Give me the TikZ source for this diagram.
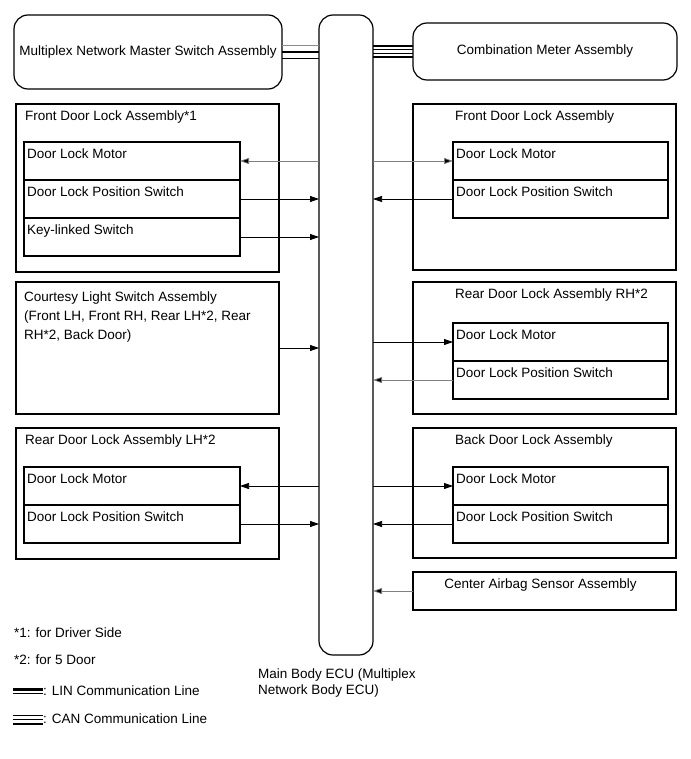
\documentclass[tikz,border=0pt]{standalone}
\usepackage{fontspec}
\setmainfont{Liberation Sans}
\usetikzlibrary{arrows.meta,positioning}

\tikzset{
  box/.style={draw,line width=1.2pt,rectangle,anchor=north west,inner sep=0pt,outer sep=0pt},
  rbox/.style={box,rounded corners=14pt},
  part/.style={box,minimum width=216,minimum height=38},
  ttl/.style={anchor=north west,inner sep=0pt,xshift=3pt,yshift=-7pt},
  arr/.style={-{Triangle[length=9pt,width=6pt]},line width=0.75pt},
  garr/.style={arr,draw=black!50,-{Triangle[length=9pt,width=6pt,fill=black]}},
  thinln/.style={line width=0.7pt},
  thickln/.style={line width=2.8pt}
}

\begin{document}
\begin{tikzpicture}[x=1pt,y=-1pt,font=\fontsize{13.5}{16}\selectfont]
  \useasboundingbox (0,0) rectangle (690,759);

  % main body ECU and the two network members
  \node[rbox,minimum width=54,minimum height=640] (ecu) at (319,15) {};
  \node[rbox,minimum width=268,minimum height=74] (msw) at (14,15) {Multiplex Network Master Switch Assembly};
  \node[rbox,minimum width=264,minimum height=57] (meter) at (413,23) {Combination Meter Assembly};
  \node[anchor=north west,inner sep=0pt,align=left] (ecutxt) at ([xshift=-61,yshift=-14]ecu.south west)
     {Main Body ECU (Multiplex\\Network Body ECU)};

  % LIN and CAN lines
  \coordinate (linL) at (msw.east);
  \coordinate (linR) at (msw.east -| ecu.west);
  \draw[thinln,black!45] ([yshift=7]linL) -- ([yshift=7]linR);
  \draw[thickln] (linL) -- (linR);
  \draw[thinln] ([yshift=-6]linL) -- ([yshift=-6]linR);
  \coordinate (canL) at (ecu.east |- meter.west);
  \coordinate (canR) at (meter.west);
  \draw[line width=2pt] ([yshift=5.5]canL) -- ([yshift=5.5]canR);
  \draw[thinln] ([yshift=2]canL) -- ([yshift=2]canR);
  \draw[thinln] ([yshift=-2]canL) -- ([yshift=-2]canR);
  \draw[line width=2pt] ([yshift=-5.5]canL) -- ([yshift=-5.5]canR);

  % left side
  \node[box,minimum width=263,minimum height=168,label={[ttl,xshift=6pt]north west:Front Door Lock Assembly*1}] (lf) at (16,104) {};
  \node[part,label={[ttl]north west:Door Lock Motor}] (lfm) at (24,142) {};
  \node[part,below=0pt of lfm,label={[ttl]north west:Door Lock Position Switch}] (lfp) {};
  \node[part,below=0pt of lfp,label={[ttl]north west:Key-linked Switch}] (lfk) {};

  \node[box,minimum width=263,minimum height=132,label={[ttl,xshift=5pt,yshift=-3pt,align=left,font=\fontsize{13.5}{19}\selectfont]north west:Courtesy Light Switch Assembly\\(Front LH, Front RH, Rear LH*2, Rear\\RH*2, Back Door)}] (court) at (16,282) {};

  \node[box,minimum width=263,minimum height=131,label={[ttl,xshift=6pt]north west:Rear Door Lock Assembly LH*2}] (lr) at (16,428) {};
  \node[part,label={[ttl]north west:Door Lock Motor}] (lrm) at (24,467) {};
  \node[part,below=0pt of lrm,label={[ttl]north west:Door Lock Position Switch}] (lrp) {};

  % right side
  \node[box,minimum width=263,minimum height=166,label={[ttl,xshift=39pt]north west:Front Door Lock Assembly}] (rf) at (413,104) {};
  \node[part,minimum width=215,label={[ttl]north west:Door Lock Motor}] (rfm) at (453,142) {};
  \node[part,minimum width=215,below=0pt of rfm,label={[ttl]north west:Door Lock Position Switch}] (rfp) {};

  \node[box,minimum width=263,minimum height=132,label={[ttl,xshift=39pt]north west:Rear Door Lock Assembly RH*2}] (rr) at (413,282) {};
  \node[part,minimum width=215,label={[ttl]north west:Door Lock Motor}] (rrm) at (453,323) {};
  \node[part,minimum width=215,below=0pt of rrm,label={[ttl]north west:Door Lock Position Switch}] (rrp) {};

  \node[box,minimum width=263,minimum height=130,label={[ttl,xshift=39pt]north west:Back Door Lock Assembly}] (bd) at (413,428) {};
  \node[part,minimum width=215,label={[ttl]north west:Door Lock Motor}] (bdm) at (453,467) {};
  \node[part,minimum width=215,below=0pt of bdm,label={[ttl]north west:Door Lock Position Switch}] (bdp) {};

  \node[box,minimum width=263,minimum height=38,label={[ttl,anchor=north,xshift=-7pt]north:Center Airbag Sensor Assembly}] (bag) at (413,572) {};

  % signal lines
  \draw[garr] (ecu.west |- lfm.east) -- (lfm.east);
  \draw[arr] (lfp.east) -- (lfp.east -| ecu.west);
  \draw[arr] (lfk.east) -- (lfk.east -| ecu.west);
  \draw[arr] (court.east) -- (court.east -| ecu.west);
  \draw[arr] (ecu.west |- lrm.east) -- (lrm.east);
  \draw[arr] (lrp.east) -- (lrp.east -| ecu.west);
  \draw[garr] (ecu.east |- rfm.west) -- (rfm.west);
  \draw[arr] (rfp.west) -- (rfp.west -| ecu.east);
  \draw[arr] (ecu.east |- rrm.west) -- (rrm.west);
  \draw[garr] (rrp.west) -- (rrp.west -| ecu.east);
  \draw[arr] (ecu.east |- bdm.west) -- (bdm.west);
  \draw[arr] (bdp.west) -- (bdp.west -| ecu.east);
  \draw[garr] (bag.west) -- (bag.west -| ecu.east);

  % notes and legend
  \node[anchor=west,inner sep=0pt] (n1) at (14,633) {*1: for Driver Side};
  \node[anchor=west,inner sep=0pt] (n2) at (14,660) {*2: for 5 Door};
  \node[anchor=west,inner sep=0pt] (lintxt) at (43,691) {: LIN Communication Line};
  \node[anchor=west,inner sep=0pt] (cantxt) at (43,719) {: CAN Communication Line};
  \draw[line width=3pt] ([xshift=-30,yshift=2]lintxt.west) -- ([yshift=2]lintxt.west);
  \draw[thinln] ([xshift=-30,yshift=-2.5]lintxt.west) -- ([yshift=-2.5]lintxt.west);
  \draw[thinln] ([xshift=-30,yshift=4]cantxt.west) -- ([yshift=4]cantxt.west);
  \draw[thinln] ([xshift=-30]cantxt.west) -- (cantxt.west);
  \draw[line width=2pt] ([xshift=-30,yshift=-5]cantxt.west) -- ([yshift=-5]cantxt.west);
\end{tikzpicture}
\end{document}
